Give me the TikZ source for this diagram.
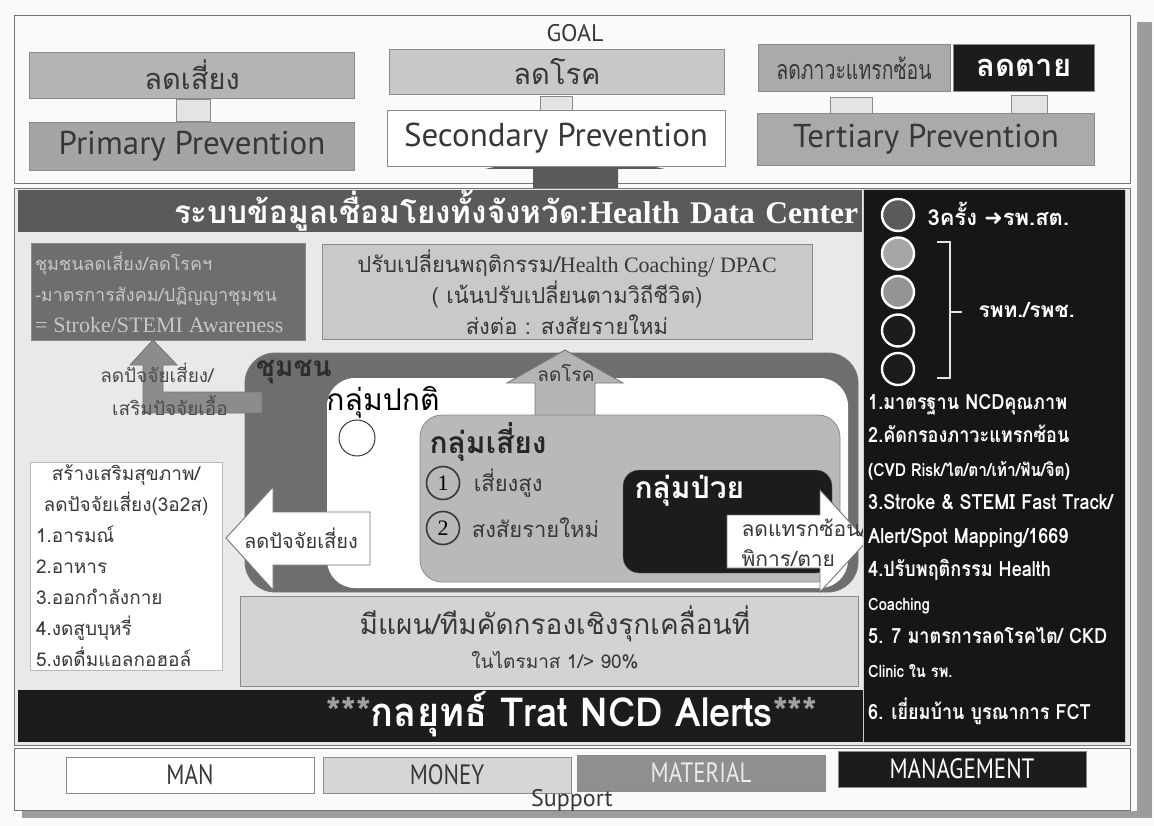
\documentclass[tikz,border=0pt]{standalone}
\usepackage{fontspec}
\setmainfont{Loma}[Script=Thai]
\newfontfamily\thainarrow{Loma}[Script=Thai,FakeStretch=0.72]
\newfontfamily\thaicond{Loma}[Script=Thai,FakeStretch=0.86]
\newfontfamily\thaibar{Loma}[Script=Thai,FakeStretch=0.95]
\newfontfamily\humfont{PT Sans}
\newfontfamily\humcond{PT Sans}[FakeStretch=0.82]
\newfontfamily\romfont{Liberation Serif}
\newfontfamily\symfont{DejaVu Sans}
\usetikzlibrary{positioning}
\newcommand\fsz[2]{\fontsize{#1}{#2}\selectfont}

\definecolor{pagebg}{HTML}{FAFAFA}
\definecolor{panelbg}{HTML}{E9E9E9}
\definecolor{framec}{HTML}{767676}
\definecolor{edgec}{HTML}{8A8A8A}
\definecolor{shadowc}{HTML}{9C9C9C}
\definecolor{riskc}{HTML}{B4B4B4}
\definecolor{primc}{HTML}{A5A5A5}
\definecolor{diseasec}{HTML}{C8C8C8}
\definecolor{tertc}{HTML}{AAAAAA}
\definecolor{inkc}{HTML}{1C1C1C}
\definecolor{darkc}{HTML}{5A5A5A}
\definecolor{commc}{HTML}{6E6E6E}
\definecolor{commtext}{HTML}{C6C6C6}
\definecolor{coachc}{HTML}{C9C9C9}
\definecolor{midc}{HTML}{8C8C8C}
\definecolor{screenc}{HTML}{D3D3D3}
\definecolor{textc}{HTML}{383838}
\definecolor{tabc}{HTML}{E4E4E4}
\definecolor{riskgrp}{HTML}{B9B9B9}
\definecolor{starc}{HTML}{A0A0A0}

\tikzset{
  box/.style={draw=edgec, line width=0.8pt, inner sep=0pt},
  tabbox/.style={draw=edgec, fill=tabc, line width=0.6pt},
  prevtext/.style={font=\humfont\fsz{33}{36}, text=textc},
  blockarrow/.style={draw=framec, line width=0.9pt},
  ring/.style={circle, draw=white, line width=2.4pt, minimum size=32, inner sep=0pt},
  numring/.style={circle, draw=textc, line width=1.6pt, minimum size=33, inner sep=0pt, font=\romfont\fsz{22}{24}},
  mbox/.style={box, minimum width=248, minimum height=36, font=\humcond\fsz{28}{30}},
}

\begin{document}
\begin{tikzpicture}[x=1pt,y=-1pt]
\useasboundingbox (0,0) rectangle (1154,826);
\fill[pagebg] (0,0) rectangle (1154,826);
% shadow of the sheet
\fill[shadowc] (1137,22) rectangle (1152,818);
\fill[shadowc] (22,811) rectangle (1152,818);

% GOAL part
\draw[framec, fill=pagebg, line width=1pt] (14,16) rectangle (1130,184);
\node[font=\humfont\fsz{24}{26}, text=textc] (goal) at (575,33) {GOAL};

\node[box, fill=riskc, minimum width=325, minimum height=46, font=\fsz{29}{32}, text=textc] (rdrisk) at (192,75) {ลดเสี่ยง};
\node[box, fill=primc, minimum width=325, minimum height=48, prevtext] (primary) at (192,146) {Primary Prevention};
\draw[tabbox] (176,99) rectangle (210,121);

\node[box, fill=diseasec, minimum width=335, minimum height=45, font=\fsz{29}{32}, text=textc] (rddisease) at (557,72) {ลดโรค};
\draw[tabbox] (540,96) rectangle (572,114);
% arrow from the province system up to the goals
\fill[darkc] (533,192) -- (533,169) -- (485,169) -- (575,150) -- (665,169) -- (618,169) -- (618,192) -- cycle;
\node[box, fill=white, minimum width=338, minimum height=56, prevtext] (secondary) at (556,138) {Secondary Prevention};

\node[box, fill=tertc, minimum width=192, minimum height=47, font=\thainarrow\fsz{27}{30}, text=textc] (rdcompl) at (854,68) {ลดภาวะแทรกซ้อน};
\node[box, fill=inkc, minimum width=141, minimum height=47, font=\bfseries\fsz{31}{34}, text=white] (rddeath) at (1024,68) {ลดตาย};
\draw[tabbox] (830,97) rectangle (872,117);
\draw[tabbox] (1011,95) rectangle (1047,117);
\node[box, fill=tertc, minimum width=337, minimum height=52, prevtext] (tertiary) at (926,139) {Tertiary Prevention};

% province part
\draw[framec, fill=panelbg, line width=1pt] (14,189) rectangle (1130,745);
\node[fill=darkc, minimum width=844, minimum height=40, inner sep=0pt, text width=836, align=right, text=white, font=\bfseries\fsz{31.5}{34}] (hdc) at (440,211) {ระบบข้อมูลเชื่อมโยงทั้งจังหวัด:{\romfont Health Data Center}};

\node[box, fill=commc, minimum width=274, minimum height=97, text width=266, align=left, text=commtext, font=\fsz{18}{31}] (commbox) at (168,292) {ชุมชนลดเสี่ยง/ลดโรคฯ\\ -มาตรการสังคม/ปฏิญญาชุมชน\\ {\romfont\fsz{22}{31}= Stroke/STEMI Awareness}};
\node[box, fill=coachc, minimum width=490, minimum height=95, align=center, text=textc, font=\fsz{22}{31}] (coach) at (567,292) {ปรับเปลี่ยนพฤติกรรม/{\romfont Health Coaching/ DPAC}\\ ( เน้นปรับเปลี่ยนตามวิถีชีวิต)\\ ส่งต่อ : สงสัยรายใหม่};

\node[box, fill=screenc, minimum width=618, minimum height=90] (screen) at (549,641) {};
\node[font=\fsz{28}{32}, text=textc] (screentitle) at (555,624) {มีแผน/ทีมคัดกรองเชิงรุกเคลื่อนที่};
\node[font=\fsz{19}{22}, text=textc] (screensub) at (555,660) {ในไตรมาส 1/> 90\%};

% community and its groups
\node[box, draw=framec, fill=commc, rounded corners=30, minimum width=613, minimum height=239] (community) at (551.5,472.5) {};
\node[font=\bfseries\fsz{28}{30}, text=textc!80!black] (communitylbl) at (294,372) {ชุมชน};
\node[fill=white, rounded corners=28, minimum width=521, minimum height=210, inner sep=0pt] (normal) at (587.5,483) {};
\node[font=\fsz{30}{32}, text=black] (normallbl) at (383,402) {กลุ่มปกติ};
\node[circle, draw=textc, line width=1pt, minimum size=36, inner sep=0pt] (normaldot) at (357,438) {};

\draw[blockarrow, fill=riskc] (535,417) -- (535,383) -- (507,383) -- (565,350) -- (623,383) -- (595,383) -- (595,417) -- cycle;
\node[font=\fsz{19}{21}, text=textc] (lessdisease) at (566,373) {ลดโรค};

\node[box, fill=riskgrp, rounded corners=22, minimum width=420, minimum height=167] (riskgrp) at (630,498.5) {};
\node[font=\bfseries\fsz{30}{32}, text=textc!70!black, anchor=west] (risklbl) at (426,442) {กลุ่มเสี่ยง};
\node[numring] (one) at (443,483) {1};
\node[font=\fsz{22}{24}, text=textc, right=10pt of one] (highrisk) {เสี่ยงสูง};
\node[numring] (two) at (443,528) {2};
\node[font=\fsz{22}{24}, text=textc, right=8pt of two] (suspect) {สงสัยรายใหม่};

\node[fill=inkc, draw=framec, rounded corners=16, minimum width=209, minimum height=103] (sick) at (727.5,521.5) {};
\node[font=\bfseries\fsz{30}{32}, text=white, anchor=west] (sicklbl) at (631,491) {กลุ่มป่วย};
\draw[blockarrow, fill=white] (727,515) -- (820,515) -- (820,490) -- (867,541) -- (820,592) -- (820,568) -- (727,568) -- cycle;
\node[font=\fsz{21}{23}, text=textc, anchor=west] (lesscompl) at (738,528) {ลดแทรกซ้อน/};
\node[font=\fsz{21}{23}, text=textc, anchor=west] (lessdeath) at (738,558) {พิการ/ตาย};

% bent arrow to the community box
\draw[blockarrow, fill=midc] (262,392) -- (163,392) -- (163,365) -- (177,365) -- (153,340) -- (130,365) -- (143,365) -- (143,413) -- (262,413) -- cycle;
\node[font=\fsz{19}{21}, text=textc!90] (lessfactor) at (157,373) {ลดปัจจัยเสี่ยง/};
\node[font=\fsz{19}{21}, text=textc!90] (morefactor) at (170,405) {เสริมปัจจัยเอื้อ};

% health promotion list
\node[box, draw=edgec!60, fill=white, minimum width=192, minimum height=208, text width=180, align=left, text=textc, font=\fsz{19}{31}] (promote) at (126,566) {\makebox[180pt][c]{สร้างเสริมสุขภาพ/}\\ \makebox[180pt][c]{ลดปัจจัยเสี่ยง(3อ2ส)}\\ 1.อารมณ์\\ 2.อาหาร\\ 3.ออกกำลังกาย\\ 4.งดสูบบุหรี่\\ 5.งดดื่มแอลกอฮอล์};
\draw[blockarrow, fill=white] (370,512) -- (273,512) -- (273,487) -- (226,538) -- (273,590) -- (273,565) -- (370,565) -- cycle;
\node[font=\fsz{20}{22}, text=textc] (lessrisk) at (301,538) {ลดปัจจัยเสี่ยง};

% strategy bar
\node[fill=inkc, minimum width=845, minimum height=52, inner sep=0pt] (alertbar) at (440.5,716) {};
\node[font=\thaibar\bfseries\fsz{40}{44}, text=white] (alerttext) at (572,714) {\textcolor{starc}{***}กลยุทธ์ Trat NCD Alerts\textcolor{starc}{***}};

% hospital levels panel
\node[fill=inkc!80!black, draw=white!80!black, line width=1pt, minimum width=262, minimum height=552] (levels) at (994,466) {};
\node[ring, fill=darkc] (lvla) at (898,215) {};
\node[ring, fill=white!65!black] (lvlb) at (898,253.5) {};
\node[ring, fill=white!58!black] (lvlc) at (898,292) {};
\node[ring, fill=inkc] (lvld) at (898,330.5) {};
\node[ring, fill=inkc] (lvle) at (898,369) {};
\draw[white!90!black, line width=2.4pt] (937,242) -- (950,242) -- (950,378) -- (937,378);
\draw[white!90!black, line width=2.4pt] (950,312) -- (962,312);
\node[font=\bfseries\fsz{22}{24}, text=white, anchor=west] (threetimes) at (924,214) {3ครั้ง {\symfont ➜}รพ.สต.};
\node[font=\bfseries\fsz{21}{24}, text=white, anchor=west] (hospitals) at (975,310) {รพท./รพช.};
\node[font=\thaicond\bfseries\fsz{21}{33.5}, text=white, align=left, anchor=north west, inner sep=0pt] (measures) at (868,394) {1.มาตรฐาน NCDคุณภาพ\\ 2.คัดกรองภาวะแทรกซ้อน\\ {\fsz{18}{20}(CVD Risk/ไต/ตา/เท้า/ฟัน/จิต)}\\ 3.Stroke \& STEMI Fast Track/\\ Alert/Spot Mapping/1669\\ 4.ปรับพฤติกรรม Health\\ {\fsz{17}{20}Coaching}\\ 5. 7 มาตรการลดโรคไต/ CKD\\ {\fsz{17}{20}Clinic ใน รพ.}\\[9pt] 6. เยี่ยมบ้าน บูรณาการ FCT};

% support part
\draw[framec, fill=pagebg, line width=1pt] (14,748) rectangle (1130,810);
\node[mbox, fill=white, text=textc] (man) at (190,775) {MAN};
\node[mbox, fill=white!84!black, text=textc] (money) at (447,775) {MONEY};
\node[mbox, fill=white!56!black, text=white!92!black] (material) at (701,773) {MATERIAL};
\node[mbox, fill=inkc, text=white] (management) at (962,769) {MANAGEMENT};
\node[font=\humfont\fsz{24}{26}, text=textc] (support) at (572,800) {Support};
\end{tikzpicture}
\end{document}
